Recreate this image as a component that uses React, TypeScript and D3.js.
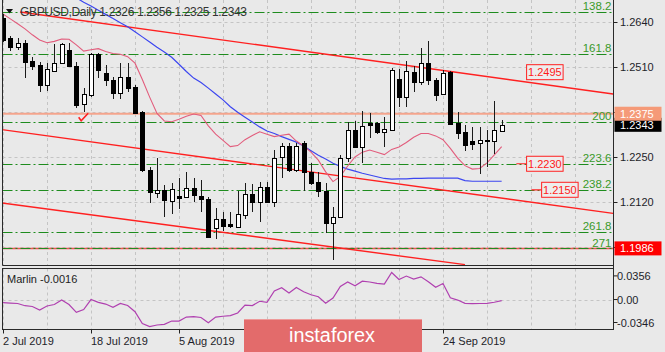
import React from "react";
import * as d3 from "d3";

const W = 665;
const H = 352;

// ---- data -----------------------------------------------------------------
// date labels that are visible (the ones at bars 36 and 48 sit under the banner)
const dateLabels = ["2 Jul 2019", "18 Jul 2019", "5 Aug 2019", "24 Sep 2019"];
const dateIndex = [0, 12, 24, 60];
const dateTickIndex = [0, 12, 24, 36, 48, 60];

const opens = [1.2652, 1.2593, 1.2569, 1.2578, 1.2528, 1.2516, 1.2458, 1.2498, 1.2521, 1.2559, 1.2514, 1.2402, 1.2429, 1.2547, 1.2492, 1.2472, 1.2436, 1.2480, 1.2452, 1.2381, 1.2212, 1.2147, 1.2155, 1.2123, 1.2137, 1.2135, 1.2161, 1.2137, 1.2129, 1.2044, 1.2070, 1.2055, 1.2048, 1.2082, 1.2142, 1.2119, 1.2164, 1.2121, 1.2249, 1.2282, 1.2212, 1.2289, 1.2206, 1.2177, 1.2152, 1.2058, 1.2077, 1.2246, 1.2328, 1.2280, 1.2347, 1.2347, 1.2323, 1.2328, 1.2475, 1.2424, 1.2496, 1.2467, 1.2522, 1.2472, 1.2431, 1.2495, 1.2347, 1.2323, 1.2296, 1.2289, 1.2299, 1.2296, 1.2326];
const highs = [1.2663, 1.2600, 1.2594, 1.2588, 1.2540, 1.2525, 1.2521, 1.2576, 1.2578, 1.2578, 1.2524, 1.2448, 1.2550, 1.2550, 1.2516, 1.2482, 1.2522, 1.2521, 1.2458, 1.2383, 1.2222, 1.2248, 1.2169, 1.2174, 1.2188, 1.2207, 1.2190, 1.2183, 1.2135, 1.2104, 1.2092, 1.2092, 1.2152, 1.2174, 1.2171, 1.2178, 1.2178, 1.2270, 1.2289, 1.2289, 1.2289, 1.2296, 1.2232, 1.2206, 1.2174, 1.2106, 1.2256, 1.2352, 1.2354, 1.2383, 1.2376, 1.2352, 1.2367, 1.2506, 1.2503, 1.2528, 1.2513, 1.2564, 1.2585, 1.2477, 1.2501, 1.2497, 1.2381, 1.2342, 1.2337, 1.2337, 1.2328, 1.2412, 1.2356];
const lows = [1.2582, 1.2556, 1.2559, 1.2479, 1.2501, 1.2439, 1.2441, 1.2496, 1.2519, 1.2511, 1.2392, 1.2381, 1.2423, 1.2477, 1.2456, 1.2418, 1.2418, 1.2437, 1.2374, 1.2207, 1.2116, 1.2131, 1.2077, 1.2084, 1.2099, 1.2132, 1.2121, 1.2090, 1.2017, 1.2012, 1.2036, 1.2044, 1.2044, 1.2071, 1.2090, 1.2063, 1.2116, 1.2106, 1.2190, 1.2207, 1.2207, 1.2152, 1.2169, 1.2135, 1.2029, 1.1952, 1.2074, 1.2236, 1.2275, 1.2232, 1.2304, 1.2316, 1.2280, 1.2325, 1.2395, 1.2395, 1.2437, 1.2458, 1.2458, 1.2412, 1.2429, 1.2342, 1.2302, 1.2267, 1.2270, 1.2200, 1.2222, 1.2260, 1.2325];
const closes = [1.2588, 1.2569, 1.2578, 1.2525, 1.2514, 1.2458, 1.2503, 1.2522, 1.2576, 1.2514, 1.2400, 1.2431, 1.2547, 1.2501, 1.2472, 1.2436, 1.2480, 1.2450, 1.2377, 1.2212, 1.2150, 1.2155, 1.2126, 1.2157, 1.2132, 1.2159, 1.2140, 1.2128, 1.2020, 1.2071, 1.2050, 1.2051, 1.2084, 1.2142, 1.2121, 1.2164, 1.2121, 1.2246, 1.2282, 1.2212, 1.2282, 1.2206, 1.2174, 1.2152, 1.2058, 1.2077, 1.2248, 1.2328, 1.2280, 1.2340, 1.2342, 1.2323, 1.2330, 1.2500, 1.2424, 1.2499, 1.2467, 1.2521, 1.2472, 1.2429, 1.2493, 1.2344, 1.2318, 1.2285, 1.2288, 1.2299, 1.2296, 1.2328, 1.2343];

// slow moving average (blue), starts at bar 10
const slowMAStart = 10;
const slowMA = [1.2710, 1.2697, 1.2686, 1.2674, 1.2662, 1.2650, 1.2638, 1.2626, 1.2612, 1.2597, 1.2582, 1.2567, 1.2553, 1.2538, 1.2518, 1.2497, 1.2478, 1.2465, 1.2449, 1.2432, 1.2415, 1.2395, 1.2379, 1.2365, 1.2351, 1.2337, 1.2325, 1.2318, 1.2309, 1.2301, 1.2293, 1.2282, 1.2268, 1.2255, 1.2244, 1.2232, 1.2223, 1.2215, 1.2209, 1.2203, 1.2198, 1.2193, 1.2188, 1.2186, 1.2187, 1.2187, 1.2188, 1.2188, 1.2189, 1.2189, 1.2189, 1.2189, 1.2189, 1.2182, 1.2180, 1.2180, 1.2180, 1.2180, 1.2180];

// fast moving average (pink)
const fastMA = [1.2663, 1.2649, 1.2635, 1.2620, 1.2603, 1.2588, 1.2580, 1.2584, 1.2591, 1.2590, 1.2574, 1.2556, 1.2560, 1.2563, 1.2555, 1.2549, 1.2547, 1.2540, 1.2521, 1.2474, 1.2423, 1.2376, 1.2354, 1.2352, 1.2359, 1.2368, 1.2374, 1.2370, 1.2340, 1.2316, 1.2298, 1.2280, 1.2283, 1.2300, 1.2312, 1.2323, 1.2316, 1.2309, 1.2313, 1.2316, 1.2296, 1.2282, 1.2264, 1.2241, 1.2207, 1.2179, 1.2194, 1.2224, 1.2250, 1.2264, 1.2270, 1.2264, 1.2257, 1.2272, 1.2279, 1.2292, 1.2307, 1.2318, 1.2318, 1.2311, 1.2300, 1.2275, 1.2247, 1.2225, 1.2215, 1.2217, 1.2233, 1.2256, 1.2280];

// Marlin oscillator
const marlin = [-0.0048, -0.0053, -0.0060, -0.0093, -0.0105, -0.0158, -0.0098, -0.0075, -0.0008, -0.0075, -0.0193, -0.0151, 0.0000, -0.0042, -0.0068, -0.0116, -0.0059, -0.0090, -0.0184, -0.0361, -0.0408, -0.0384, -0.0373, -0.0324, -0.0324, -0.0264, -0.0259, -0.0271, -0.0349, -0.0264, -0.0252, -0.0242, -0.0203, -0.0083, -0.0092, -0.0026, -0.0041, 0.0128, 0.0178, 0.0098, 0.0181, 0.0116, 0.0072, 0.0042, -0.0057, 0.0023, 0.0196, 0.0264, 0.0208, 0.0276, 0.0264, 0.0244, 0.0233, 0.0407, 0.0301, 0.0354, 0.0309, 0.0342, 0.0268, 0.0185, 0.0241, 0.0026, -0.0008, -0.0057, -0.0063, -0.0060, -0.0057, -0.0041, -0.0016];

// price axis
const gridPrices = [1.2640, 1.2510, 1.2380, 1.2250, 1.2120, 1.1990];
const tickLabels = ["1.2640", "1.2510", "1.2250", "1.2120"];
const indTicks = [0.0356, 0.0, -0.0346];
const indTickLabels = ["0.0356", "0.00", "-0.0346"];

// Fibonacci expansion
const fibLevels = [138.2, 161.8, 200, 223.6, 238.2, 261.8, 271];
const fibLabels = ["138.2", "161.8", "200", "223.6", "238.2", "261.8", "271"];
const fib100 = 1.2867;
const fibRange = 0.0515;

// trend lines: [index1, price1, index2, price2]
const trendTop = [2.32, 1.2669, 83.2, 1.2432];
const trendMid = [-0.41, 1.2330, 83.2, 1.2087];
const trendLow = [-0.41, 1.2118, 63.0, 1.1939];

const levelSalmon = 1.2375;
const levelRed = 1.1986;
const lastPrice = 1.2343;

// boxed price notes on the chart
const noteTexts = ["1.2495", "1.2230", "1.2150"];
const noteIndex = [71.4, 71.4, 73.45];
const notePrices = [1.2495, fib100 - (223.6 - 100) / 100 * fibRange, fib100 - (238.2 - 100) / 100 * fibRange];
const noteDash = [0, 1.4, 1.4];

const FONT = "'Liberation Sans', Arial, sans-serif";

export default function App() {
  const step = 22 / 3;
  const x = d3.scaleLinear().domain([0, 68]).range([3, 3 + 68 * step]);
  const y = d3.scaleLinear().domain([1.2120, 1.2640]).range([202, 22]);
  const yi = d3.scaleLinear().domain([-0.0346, 0.0356]).range([322.5, 275.9]);
  const fibPrice = (l: number) => fib100 - ((l - 100) / 100) * fibRange;

  const L = 2.5, R = 613.5, mainB = 265.5, indT = 268.5, indB = 329.5;

  const slowLine = d3.line<number>().x((_, i) => x(i + slowMAStart)).y((d) => y(d))(slowMA) || "";
  const fastLine = d3.line<number>().x((_, i) => x(i)).y((d) => y(d))(fastMA) || "";
  const marlinLine = d3.line<number>().x((_, i) => x(i)).y((d) => yi(d))(marlin) || "";

  const gridIdx = d3.range(0, 80, 6);
  const tl = (t: number[]) => ({ x1: x(t[0]), y1: y(t[1]), x2: x(t[2]), y2: y(t[3]) });

  const candles = opens.map((o, i) => {
    const c = closes[i];
    const cx = Math.round(x(i));
    const top = Math.round(y(Math.max(o, c)));
    const bot = Math.round(y(Math.min(o, c)));
    const up = c >= o;
    return (
      <g key={i}>
        <line x1={cx + 0.5} x2={cx + 0.5} y1={Math.round(y(highs[i]))} y2={Math.round(y(lows[i]))} stroke="#1a1a1a" strokeWidth={1} />
        <rect x={cx - 1.5} y={top + 0.5} width={4} height={Math.max(bot - top, 1)} fill={up ? "#fff" : "#000"} stroke="#000" strokeWidth={1} />
      </g>
    );
  });

  const checkX = x(11), checkY = y(1.2365);

  return (
    <svg width={W} height={H} style={{ position: "absolute", left: 0, top: 0, background: "#E9E9E9" }} fontFamily={FONT}>
      <defs>
        <clipPath id="mainClip"><rect x={L} y={0} width={R - L} height={mainB} /></clipPath>
        <clipPath id="indClip"><rect x={L} y={indT} width={R - L} height={indB - indT} /></clipPath>
      </defs>
      <rect x={0} y={0} width={W} height={H} fill="#E9E9E9" />

      {/* grid */}
      <g stroke="#C4C4C4" strokeDasharray="3,3" strokeWidth={1}>
        {gridIdx.map((i) => (
          <g key={i}>
            <line x1={Math.round(x(i)) + 0.5} x2={Math.round(x(i)) + 0.5} y1={0} y2={mainB} />
            <line x1={Math.round(x(i)) + 0.5} x2={Math.round(x(i)) + 0.5} y1={indT} y2={indB} />
          </g>
        ))}
        {gridPrices.map((p) => (
          <line key={p} x1={L} x2={R} y1={Math.round(y(p)) + 0.5} y2={Math.round(y(p)) + 0.5} />
        ))}
        <line x1={L} x2={R} y1={Math.round(yi(0)) + 0.5} y2={Math.round(yi(0)) + 0.5} />
      </g>

      <g clipPath="url(#mainClip)">
        {/* horizontal levels */}
        <line x1={L} x2={R} y1={y(levelSalmon)} y2={y(levelSalmon)} stroke="#F5A48C" strokeWidth={2} />
        <line x1={L} x2={R} y1={y(levelRed)} y2={y(levelRed)} stroke="#F05050" strokeWidth={1.5} />
        {fibLevels.map((l) => (
          <line key={l} x1={L} x2={R} y1={Math.round(y(fibPrice(l))) + 0.5} y2={Math.round(y(fibPrice(l))) + 0.5} stroke="#1E8C1E" strokeWidth={1.2} strokeDasharray="10,3,2,3" />
        ))}
        {/* trend lines */}
        {[trendTop, trendMid, trendLow].map((t, k) => (
          <line key={k} {...tl(t)} stroke="#FF2020" strokeWidth={1.4} />
        ))}
        {/* moving averages */}
        <path d={slowLine} fill="none" stroke="#3C46F0" strokeWidth={1.2} />
        <path d={fastLine} fill="none" stroke="#E25C7C" strokeWidth={1.1} />
        {candles}
        {/* check mark */}
        <path d={`M${checkX - 5},${checkY} L${checkX - 2.5},${checkY + 3.5} L${checkX + 4.5},${checkY - 4}`} fill="none" stroke="#FF2020" strokeWidth={1.6} />
        {/* boxed notes */}
        {noteTexts.map((t, k) => {
          const bx = x(noteIndex[k]);
          const by = y(notePrices[k]);
          return (
            <g key={t}>
              {noteDash[k] > 0 && (
                <line x1={x(noteIndex[k] - noteDash[k])} x2={bx} y1={by} y2={by} stroke="#FF2020" strokeWidth={1.2} />
              )}
              <rect x={bx} y={by - 7.5} width={36.5} height={15} fill="#EDEDED" stroke="#FF2020" strokeWidth={1} />
              <text x={bx + 18.25} y={by + 4} textAnchor="middle" fontSize={11} fill="#FF1A1A">{t}</text>
            </g>
          );
        })}
        {/* fib labels */}
        {fibLevels.map((l, k) => (
          <text key={l} x={R - 2} y={y(fibPrice(l)) - 1.5} textAnchor="end" fontSize={11.5} fill="#3A9A2A">{fibLabels[k]}</text>
        ))}
      </g>

      {/* header */}
      <polygon points="6,9 13,9 9.5,13.5" fill="#111" />
      <text x={20} y={16} fontSize={12} fill="#333" textLength={227} lengthAdjust="spacing">
        GBPUSD,Daily  1.2326 1.2356 1.2325 1.2343
      </text>

      {/* indicator */}
      <g clipPath="url(#indClip)">
        <path d={marlinLine} fill="none" stroke="#B040B0" strokeWidth={1.2} />
      </g>
      <text x={7} y={283} fontSize={11} fill="#222">Marlin -0.0016</text>

      {/* frames */}
      <g stroke="#2A2A2A" strokeWidth={1} fill="none">
        <line x1={L} x2={L} y1={0} y2={mainB} />
        <line x1={L} x2={R} y1={mainB} y2={mainB} />
        <rect x={L} y={indT} width={R - L} height={indB - indT} />
        <line x1={R} x2={R} y1={0} y2={indB} />
      </g>

      {/* price axis */}
      {gridPrices.map((p) => (
        <line key={p} x1={R} x2={R + 4} y1={Math.round(y(p)) + 0.5} y2={Math.round(y(p)) + 0.5} stroke="#222" />
      ))}
      {tickLabels.map((t) => (
        <text key={t} x={620} y={y(+t) + 4} fontSize={11} fill="#1E1E2A">{t}</text>
      ))}
      {indTicks.map((v, k) => (
        <g key={k}>
          <line x1={R} x2={R + 4} y1={yi(v)} y2={yi(v)} stroke="#222" />
          <text x={617} y={yi(v) + 4} fontSize={11} fill="#1E1E2A">{indTickLabels[k]}</text>
        </g>
      ))}
      {/* price boxes */}
      <rect x={R + 1} y={y(lastPrice) - 7} width={47} height={14} fill="#000" />
      <text x={620} y={y(lastPrice) + 4} fontSize={11} fill="#fff">{lastPrice.toFixed(4)}</text>
      <rect x={R + 1} y={y(levelSalmon) - 7} width={47} height={14} fill="#F59A78" />
      <text x={620} y={y(levelSalmon) + 4} fontSize={11} fill="#fff">{levelSalmon.toFixed(4)}</text>
      <rect x={R + 1} y={y(levelRed) - 7} width={47} height={14} fill="#FF0000" />
      <text x={620} y={y(levelRed) + 4} fontSize={11} fill="#fff">{levelRed.toFixed(4)}</text>

      {/* time axis */}
      {dateTickIndex.map((i) => (
        <line key={i} x1={Math.round(x(i)) + 0.5} x2={Math.round(x(i)) + 0.5} y1={indB} y2={indB + 4} stroke="#222" />
      ))}
      {dateIndex.map((i, k) => (
        <text key={i} x={Math.round(x(i))} y={345} fontSize={11} fill="#1E1E2A">{dateLabels[k]}</text>
      ))}

      {/* watermark banner */}
      <rect x={244} y={319} width={178} height={33} fill="#E36B6B" />
      <line x1={244} x2={422} y1={319.5} y2={319.5} stroke="#EE9A9A" />
      <text x={289} y={342} fontSize={20} fill="#fff" textLength={86} lengthAdjust="spacingAndGlyphs">instaforex</text>
    </svg>
  );
}
